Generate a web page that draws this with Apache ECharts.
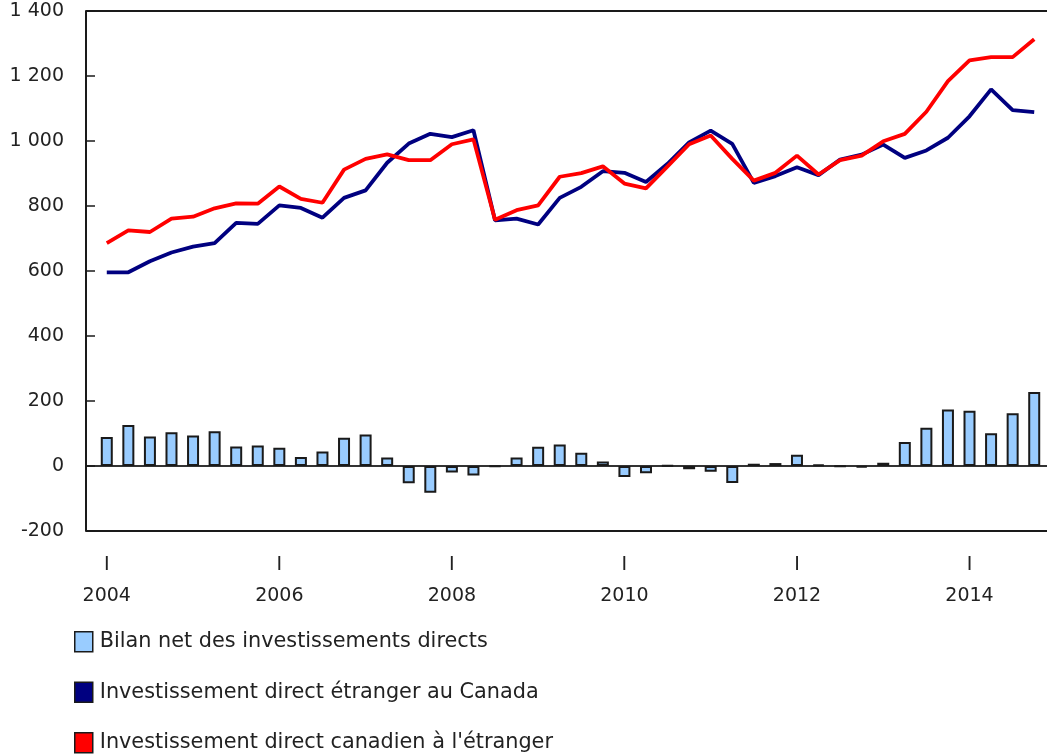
<!DOCTYPE html>
<html>
<head>
<meta charset="utf-8">
<script src="https://cdn.jsdelivr.net/npm/echarts@6/dist/echarts.min.js"></script>
<style>
  html, body { margin: 0; padding: 0; background: #fff; }
  #chart { width: 1047px; height: 755px; }
</style>
</head>
<body>
<div id="chart"></div>
<script>
// trimestres 2004 T1 - 2014 T4
const years = [2004, 2005, 2006, 2007, 2008, 2009, 2010, 2011, 2012, 2013, 2014]
const quarters = ['I', 'II', 'III', 'IV']

// Bilan net des investissements directs
const bilanNet = [
    89, 126, 91, 104, 94, 107, 60, 63, 56, 28, 45, 87,
    97, 26, -53, -82, -20, -29, -2, 26, 59, 66, 41, 14,
    -34, -22, 2, -10, -18, -52, 7, 9, 35, 4, -1, -5,
    10, 74, 118, 174, 170, 101, 162, 228
]
// Investissement direct étranger au Canada
const ideCanada = [
    596, 596, 630, 657, 675, 686, 748, 745, 802, 794, 764, 825,
    848, 933, 992, 1022, 1012, 1033, 756, 761, 743, 825, 859, 907,
    902, 874, 930, 996, 1032, 991, 871, 892, 919, 895, 943, 958,
    989, 948, 971, 1010, 1076, 1159, 1095, 1089
]
// Investissement direct canadien à l'étranger
const idcEtranger = [
    686, 725, 720, 761, 767, 793, 808, 807, 860, 822, 810, 912,
    945, 959, 941, 941, 990, 1005, 758, 787, 802, 890, 901, 922,
    869, 854, 922, 990, 1017, 945, 878, 902, 955, 897, 941, 955,
    999, 1022, 1090, 1184, 1248, 1258, 1258, 1313
]

const yTicks = [-200, 0, 200, 400, 600, 800, 1000, 1200, 1400]

let categories = []
for (const y of years) {
    for (const q of quarters) {
        categories.push(y + ' ' + q)
    }
}

const names = [
    'Bilan net des investissements directs',
    'Investissement direct étranger au Canada',
    "Investissement direct canadien à l'étranger"
]

const chart = echarts.init(document.getElementById('chart'))
const font = 'DejaVu Sans, Verdana, sans-serif'
const ink = '#1a1a1a'

// seules les lignes -200, 0 et 1 400 sont tracées
const splitColors = yTicks.map(v => (v === -200 || v === 1400) ? ink : (v === 0 ? '#333' : 'rgba(0,0,0,0)'))

let option = {
    animation: false,
    textStyle: { fontFamily: font },
    legend: {
        orient: 'vertical',
        left: 74,
        top: 631,
        padding: 0,
        height: 124,
        itemWidth: 18,
        itemHeight: 20,
        itemGap: 29,
        icon: 'rect',
        textStyle: { fontSize: 20.8, color: '#222', fontFamily: font, padding: [0, 0, 0, 2] },
        data: names.map(n => ({ name: n, itemStyle: { borderColor: ink, borderWidth: 1.5 } }))
    },
    grid: [
        { left: 86, right: 0, top: 11, bottom: 224 },
        { left: 96, right: 2, top: 11, bottom: 224 }
    ],
    xAxis: [
        { type: 'value', gridIndex: 0, min: 0, max: 1, show: false },
        {
            type: 'category',
            gridIndex: 1,
            data: categories,
            boundaryGap: true,
            axisLine: { show: false },
            axisTick: { show: false },
            axisLabel: {
                interval: (i) => i % 8 === 0,
                margin: 19,
                fontSize: 19,
                lineHeight: 31,
                color: '#222',
                formatter: (v) => {
                    const p = v.split(' ')
                    return p[1] + '\n' + p[0]
                }
            }
        }
    ],
    yAxis: [
        {
            type: 'value',
            gridIndex: 0,
            min: -200,
            max: 1400,
            interval: 200,
            axisLine: { show: true, lineStyle: { color: ink, width: 2 } },
            axisTick: { show: true, inside: true, length: 9, lineStyle: { color: ink, width: 1.5 } },
            axisLabel: {
                margin: 22,
                fontSize: 19,
                color: '#222',
                padding: [6, 0, 0, 0],
                formatter: (v) => String(v).replace(/\B(?=(\d{3})+(?!\d))/g, ' ')
            },
            splitLine: { show: true, lineStyle: { color: splitColors, width: 2 } }
        },
        { type: 'value', gridIndex: 1, min: -200, max: 1400, interval: 200, show: false }
    ],
    series: [
        {
            name: names[0],
            type: 'bar',
            xAxisIndex: 1,
            yAxisIndex: 1,
            data: bilanNet,
            barWidth: 12,
            itemStyle: { color: '#99ccff', borderColor: ink, borderWidth: 2 }
        },
        {
            name: names[1],
            type: 'line',
            xAxisIndex: 1,
            yAxisIndex: 1,
            data: ideCanada,
            showSymbol: false,
            symbol: 'none',
            itemStyle: { color: '#000080' },
            lineStyle: { color: '#000080', width: 3.8 }
        },
        {
            name: names[2],
            type: 'line',
            xAxisIndex: 1,
            yAxisIndex: 1,
            data: idcEtranger,
            showSymbol: false,
            symbol: 'none',
            itemStyle: { color: '#ff0000' },
            lineStyle: { color: '#ff0000', width: 3.8 }
        }
    ]
}

chart.setOption(option)
</script>
</body>
</html>
